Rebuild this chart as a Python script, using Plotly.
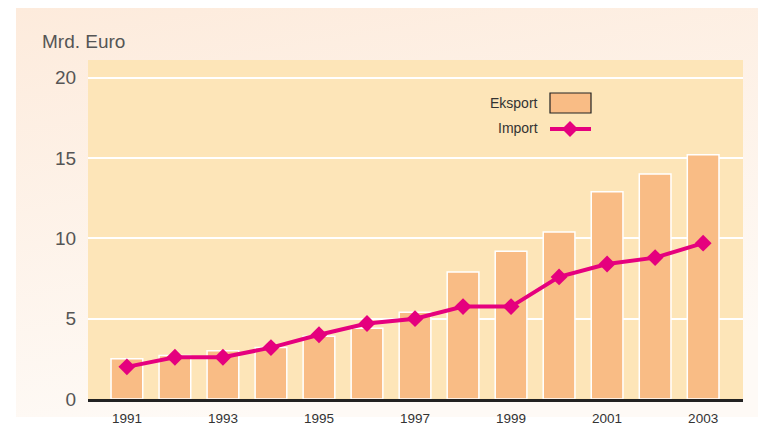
import base64
import plotly.graph_objects as go

years = [1991, 1992, 1993, 1994, 1995, 1996, 1997, 1998, 1999, 2000, 2001, 2002, 2003]
eksport = [2.5, 2.7, 3.0, 3.2, 3.9, 4.4, 5.4, 7.9, 9.2, 10.4, 12.9, 14.0, 15.2]
impor = [2.0, 2.6, 2.6, 3.2, 4.0, 4.7, 5.0, 5.75, 5.75, 7.6, 8.4, 8.8, 9.7]
x_ticks = [1991, 1993, 1995, 1997, 1999, 2001, 2003]
y_ticks = [0, 5, 10, 15, 20]

W, H = 758, 427
L, R, T, B = 88, 15, 60, 28
pw, ph = W - L - R, H - T - B

def px(x):
    return (x - L) / pw

def py(y):
    return (H - B - y) / ph

BAR = "#f9bc85"
LINE = "#e5007e"
PLOTBG = "#fde5b8"

fig = go.Figure()
fig.add_trace(go.Bar(x=years, y=eksport, width=0.66, marker=dict(color=BAR, line=dict(color="white", width=1.5)),
                     name="Eksport", showlegend=False))
fig.add_trace(go.Scatter(x=years, y=impor, mode="lines+markers", name="Import", showlegend=False,
                         line=dict(color=LINE, width=4),
                         marker=dict(symbol="diamond", size=13, color=LINE)))

svg = ('<svg xmlns="http://www.w3.org/2000/svg" width="100" height="100" preserveAspectRatio="none">'
       '<defs><linearGradient id="g" x1="0" y1="0" x2="0.3" y2="1">'
       '<stop offset="0" stop-color="#fdebdc"/><stop offset="1" stop-color="#fefaf6"/>'
       '</linearGradient></defs><rect width="100" height="100" fill="url(#g)"/></svg>')
src = "data:image/svg+xml;base64," + base64.b64encode(svg.encode()).decode()

fig.add_layout_image(dict(source=src, xref="paper", yref="paper", x=px(16), y=py(8),
                          sizex=px(W) - px(16), sizey=py(8) - py(417), sizing="stretch",
                          xanchor="left", yanchor="top", layer="below"))

shapes = [
    dict(type="rect", xref="paper", yref="paper", x0=0, x1=1, y0=0, y1=1,
         fillcolor=PLOTBG, line=dict(width=0), layer="below"),
    # legend
    dict(type="rect", xref="paper", yref="paper", x0=px(550), x1=px(591), y0=py(113), y1=py(93),
         fillcolor=BAR, line=dict(color="#222", width=1.2)),
    dict(type="line", xref="paper", yref="paper", x0=px(550), x1=px(591), y0=py(129), y1=py(129),
         line=dict(color=LINE, width=4)),
    dict(type="path", xref="paper", yref="paper", xsizemode="pixel", ysizemode="pixel",
         xanchor=px(570), yanchor=py(129), path="M0,8 L8,0 L0,-8 L-8,0 Z",
         fillcolor=LINE, line=dict(width=0)),
]

annotations = [
    dict(text="Mrd. Euro", xref="paper", yref="paper", x=px(40), y=py(41), xanchor="left", yanchor="middle",
         showarrow=False, font=dict(size=19, color="#555")),
    dict(text="Eksport", xref="paper", yref="paper", x=px(540), y=py(103), xanchor="right", yanchor="middle",
         showarrow=False, font=dict(size=14, color="#333")),
    dict(text="Import", xref="paper", yref="paper", x=px(540), y=py(128), xanchor="right", yanchor="middle",
         showarrow=False, font=dict(size=14, color="#333")),
]

fig.update_layout(
    width=W, height=H, margin=dict(l=L, r=R, t=T, b=B, autoexpand=False),
    paper_bgcolor="white", plot_bgcolor="rgba(0,0,0,0)",
    font=dict(family="Liberation Sans, Arial, sans-serif"),
    shapes=shapes, annotations=annotations, bargap=0.3,
    xaxis=dict(range=[1990.19, 2003.83], tickvals=x_ticks, ticktext=[str(v) for v in x_ticks],
               showgrid=False, showline=True, linecolor="#222", linewidth=3, ticks="outside",
               ticklen=5, tickcolor="rgba(0,0,0,0)", tickfont=dict(size=13.5, color="#333"), zeroline=False,
               automargin=False),
    yaxis=dict(range=[0, 21.1], tickvals=y_ticks, showgrid=True, gridcolor="white", gridwidth=1.5,
               zeroline=False, showline=False, ticks="outside", ticklen=7, tickcolor="rgba(0,0,0,0)",
               tickfont=dict(size=19, color="#555"), automargin=False),
)

fig.write_html("out.html", config={"displayModeBar": False},
               post_script="document.body.style.margin='0';document.body.style.overflow='hidden';")
